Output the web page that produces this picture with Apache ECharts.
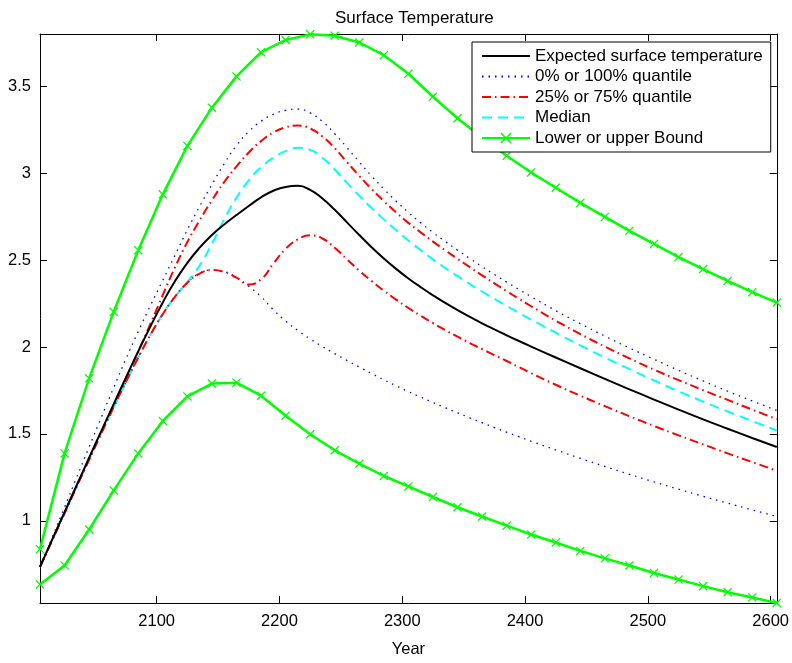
<!DOCTYPE html>
<html>
<head>
<meta charset="utf-8">
<title>Surface Temperature</title>
<script src="https://cdn.jsdelivr.net/npm/echarts@6/dist/echarts.min.js"></script>
<style>
  html, body { margin: 0; padding: 0; background: #fff; }
  #chart { width: 792px; height: 663px; }
</style>
</head>
<body>
<div id="chart"></div>
<script>
// sample years for the smooth curves (10-year steps, then 20-year steps)
const years = [2005, 2015, 2025, 2035, 2045, 2055, 2065, 2075, 2085, 2095,
  2105, 2115, 2125, 2135, 2145, 2155, 2165, 2175, 2185, 2195,
  2205, 2215, 2225, 2235, 2245, 2255, 2265, 2275, 2285, 2295,
  2305, 2315, 2325, 2335, 2345, 2355, 2365, 2375, 2385, 2395,
  2405, 2425, 2445, 2465, 2485, 2505, 2525, 2545, 2565, 2585, 2605]

// marker years for the bounds
const boundYears = [2005, 2025, 2045, 2065, 2085, 2105, 2125, 2145, 2165, 2185,
  2205, 2225, 2245, 2265, 2285, 2305, 2325, 2345, 2365, 2385,
  2405, 2425, 2445, 2465, 2485, 2505, 2525, 2545, 2565, 2585, 2605]

const expected = [0.735, 0.893, 1.05, 1.207, 1.363, 1.518, 1.672, 1.825, 1.975, 2.12,
  2.257, 2.38, 2.485, 2.572, 2.645, 2.706, 2.76, 2.812, 2.862, 2.90,
  2.922, 2.928, 2.905, 2.855, 2.79, 2.718, 2.645, 2.575, 2.51, 2.45,
  2.395, 2.345, 2.298, 2.254, 2.213, 2.174, 2.137, 2.102, 2.068, 2.035,
  2.003, 1.94, 1.878, 1.817, 1.757, 1.698, 1.64, 1.584, 1.53, 1.477, 1.425]

const q100 = [0.735, 0.905, 1.078, 1.252, 1.425, 1.597, 1.767, 1.932, 2.09, 2.24,
  2.385, 2.53, 2.675, 2.81, 2.935, 3.055, 3.16, 3.24, 3.30, 3.34,
  3.363, 3.37, 3.348, 3.298, 3.228, 3.148, 3.065, 2.985, 2.91, 2.84,
  2.775, 2.715, 2.66, 2.608, 2.558, 2.51, 2.463, 2.418, 2.374, 2.332,
  2.29, 2.21, 2.135, 2.063, 1.995, 1.93, 1.866, 1.805, 1.746, 1.69, 1.635]

const q0 = [0.735, 0.89, 1.045, 1.2, 1.35, 1.505, 1.655, 1.80, 1.94, 2.07,
  2.19, 2.29, 2.37, 2.425, 2.443, 2.435, 2.40, 2.35, 2.29, 2.215,
  2.15, 2.095, 2.047, 2.003, 1.962, 1.923, 1.885, 1.848, 1.812, 1.777,
  1.744, 1.712, 1.681, 1.651, 1.622, 1.593, 1.565, 1.537, 1.51, 1.484,
  1.458, 1.408, 1.36, 1.313, 1.268, 1.224, 1.182, 1.141, 1.102, 1.063, 1.025]

const q75 = [0.735, 0.89, 1.045, 1.2, 1.355, 1.51, 1.665, 1.82, 1.975, 2.135,
  2.30, 2.46, 2.605, 2.73, 2.845, 2.95, 3.04, 3.12, 3.185, 3.235,
  3.265, 3.275, 3.258, 3.212, 3.145, 3.065, 2.985, 2.91, 2.84, 2.775,
  2.715, 2.66, 2.607, 2.557, 2.508, 2.46, 2.413, 2.367, 2.322, 2.278,
  2.235, 2.152, 2.075, 2.003, 1.935, 1.87, 1.81, 1.752, 1.696, 1.64, 1.585]

const q25 = [0.735, 0.89, 1.045, 1.2, 1.352, 1.505, 1.655, 1.80, 1.94, 2.072,
  2.19, 2.29, 2.37, 2.423, 2.443, 2.432, 2.40, 2.36, 2.39, 2.48,
  2.565, 2.62, 2.643, 2.625, 2.572, 2.505, 2.44, 2.38, 2.325, 2.273,
  2.225, 2.18, 2.138, 2.098, 2.06, 2.023, 1.988, 1.954, 1.92, 1.885,
  1.85, 1.783, 1.72, 1.66, 1.602, 1.546, 1.492, 1.44, 1.388, 1.338, 1.288]

const median = [0.735, 0.89, 1.045, 1.2, 1.352, 1.505, 1.655, 1.80, 1.94, 2.072,
  2.19, 2.29, 2.375, 2.47, 2.595, 2.735, 2.86, 2.96, 3.035, 3.09,
  3.128, 3.147, 3.135, 3.09, 3.022, 2.945, 2.87, 2.80, 2.735, 2.672,
  2.613, 2.558, 2.505, 2.455, 2.408, 2.363, 2.32, 2.278, 2.237, 2.197,
  2.158, 2.083, 2.01, 1.94, 1.873, 1.808, 1.745, 1.686, 1.629, 1.574, 1.52]

const upperBound = [0.837, 1.388, 1.82, 2.203, 2.558, 2.879, 3.158, 3.378, 3.558, 3.697,
  3.768, 3.80, 3.792, 3.753, 3.68, 3.573, 3.441, 3.317, 3.205, 3.101,
  3.005, 2.917, 2.83, 2.749, 2.669, 2.594, 2.518, 2.449, 2.381, 2.316, 2.256]

const lowerBound = [0.634, 0.743, 0.95, 1.175, 1.388, 1.575, 1.716, 1.79, 1.795, 1.72,
  1.605, 1.498, 1.406, 1.329, 1.258, 1.198, 1.137, 1.078, 1.025, 0.972,
  0.921, 0.875, 0.827, 0.784, 0.743, 0.700, 0.662, 0.624, 0.589, 0.559, 0.527]

const xTicks = [2100, 2200, 2300, 2400, 2500, 2600]
const yTicks = [1, 1.5, 2, 2.5, 3, 3.5]

const font = "'Liberation Sans', Arial, sans-serif"
const pairs = (xs, ys) => xs.map((x, i) => [x, ys[i]])
const cross = 'path://M1,0L5,4L9,0L10,1L6,5L10,9L9,10L5,6L1,10L0,9L4,5L0,1Z'

const X_MIN = 2005, X_MAX = 2605, Y_MIN = 0.527, Y_MAX = 3.802

function boxAxis(pos, ticks, showLabel) {
  const horiz = pos === 'bottom' || pos === 'top'
  return {
    type: 'value',
    position: pos,
    min: horiz ? X_MIN : Y_MIN,
    max: horiz ? X_MAX : Y_MAX,
    splitLine: { show: false },
    axisLine: { show: true, onZero: false, lineStyle: { color: '#000', width: 1 } },
    axisTick: { show: true, inside: true, length: 7, customValues: ticks, lineStyle: { color: '#000' } },
    axisLabel: {
      show: showLabel, customValues: ticks, color: '#000', fontSize: 16.5, fontFamily: font, margin: 10,
      formatter: v => String(v),
    },
  }
}

const xBottom = boxAxis('bottom', xTicks, true)
xBottom.name = 'Year'
xBottom.nameLocation = 'middle'
xBottom.nameGap = 38
xBottom.nameTextStyle = { color: '#000', fontSize: 16.5, fontFamily: font }
const yLeft = boxAxis('left', yTicks, true)
yLeft.axisLabel.margin = 9

const line = (name, data, color, type, width, extra) => Object.assign({
  name: name,
  type: 'line',
  data: data,
  symbol: 'none',
  smooth: 0.5,
  color: color,
  lineStyle: { color: color, type: type, width: width },
  animation: false,
}, extra || {})

const noMark = { opacity: 0 }

const charts = echarts.init(document.getElementById('chart'))
charts.setOption({
  backgroundColor: '#fff',
  animation: false,
  title: {
    text: 'Surface Temperature',
    left: 330,
    top: 5,
    textStyle: { fontSize: 17, fontWeight: 'normal', color: '#000', fontFamily: font },
  },
  grid: { left: 40, right: 14, top: 34, bottom: 48, containLabel: false },
  legend: {
    orient: 'vertical',
    left: 472,
    top: 42,
    padding: [4, 8, 4, 9],
    itemWidth: 48,
    itemHeight: 14,
    itemGap: 0.5,
    backgroundColor: '#fff',
    borderColor: '#000',
    borderWidth: 1,
    borderRadius: 0,
    textStyle: { fontSize: 17, lineHeight: 20, color: '#000', fontFamily: font },
    data: [
      { name: 'Expected surface temperature', itemStyle: noMark },
      { name: '0% or 100% quantile', itemStyle: noMark },
      { name: '25% or 75% quantile', itemStyle: noMark },
      { name: 'Median', itemStyle: noMark },
      { name: 'Lower or upper Bound' },
    ],
  },
  xAxis: [xBottom, boxAxis('top', xTicks, false)],
  yAxis: [yLeft, boxAxis('right', yTicks, false)],
  series: [
    line('Lower or upper Bound', pairs(boundYears, upperBound), '#00ff00', 'solid', 2.5,
      { smooth: false, symbol: cross, symbolSize: 9, showSymbol: true, itemStyle: { color: '#00ff00' } }),
    line('Lower or upper Bound', pairs(boundYears, lowerBound), '#00ff00', 'solid', 2.5,
      { smooth: false, symbol: cross, symbolSize: 9, showSymbol: true, itemStyle: { color: '#00ff00' } }),
    line('0% or 100% quantile', pairs(years, q100), '#0000ff', [1.5, 5], 1.3),
    line('0% or 100% quantile', pairs(years, q0), '#0000ff', [1.5, 5], 1.3),
    line('Median', pairs(years, median), '#00ffff', [10, 6], 2),
    line('25% or 75% quantile', pairs(years, q75), '#ff0000', [9, 4, 1.5, 4], 2),
    line('25% or 75% quantile', pairs(years, q25), '#ff0000', [9, 4, 1.5, 4], 2),
    line('Expected surface temperature', pairs(years, expected), '#000000', 'solid', 2),
  ],
})
</script>
</body>
</html>
